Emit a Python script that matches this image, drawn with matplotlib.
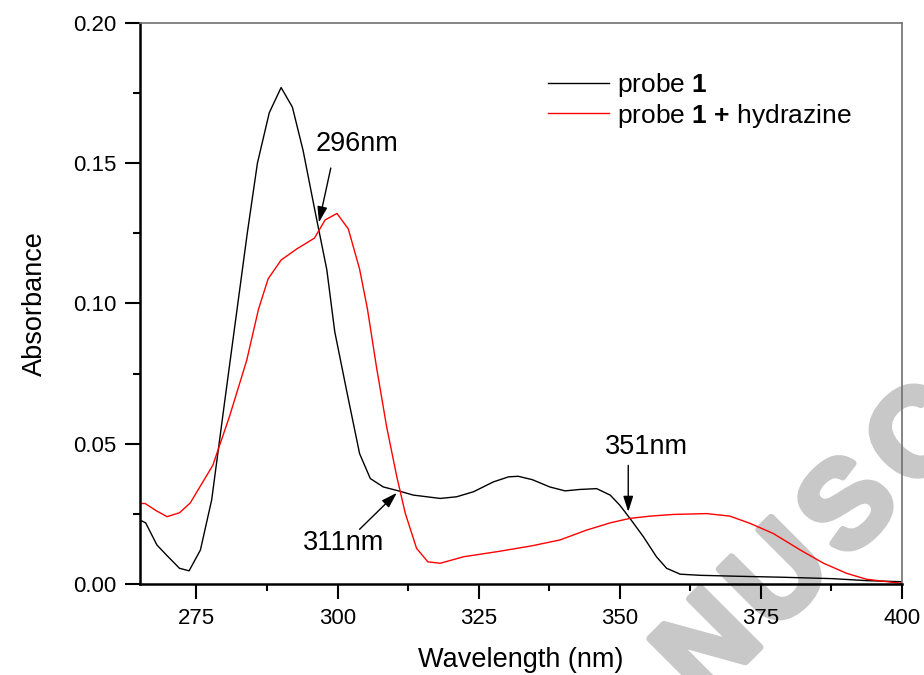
import matplotlib
matplotlib.use("Agg")
import matplotlib.pyplot as plt
import matplotlib.patheffects as pe
from matplotlib.ticker import MultipleLocator

plt.rcParams['font.family'] = ['Liberation Sans', 'DejaVu Sans']
plt.rcParams['mathtext.fontset'] = 'custom'
plt.rcParams['mathtext.rm'] = 'Liberation Sans'
plt.rcParams['mathtext.bf'] = 'Liberation Sans:bold'

# probe 1 (black)
wl_probe = [265, 266, 268, 269.7, 272, 273.7, 275.7, 277.7, 280, 282.4, 284, 285.8,
            287.9, 290, 292, 293.9, 296, 298.1, 299.5, 301.6, 303.9, 305.8, 308.1,
            310.8, 313.4, 318.2, 321.1, 324.1, 327.6, 330.3, 332, 334.5, 337.6,
            340.3, 342.9, 345.9, 348.3, 350, 351.8, 354.2, 356.5, 358.3, 360.7,
            364.2, 370.1, 379, 387.8, 393.7, 400]
abs_probe = [0.0228, 0.0218, 0.0139, 0.0103, 0.0056, 0.0047, 0.0121, 0.030, 0.065,
             0.101, 0.125, 0.150, 0.168, 0.177, 0.170, 0.1545, 0.133, 0.112, 0.090,
             0.069, 0.0465, 0.0376, 0.0346, 0.0332, 0.0317, 0.0305, 0.0311, 0.0329,
             0.0364, 0.0382, 0.0384, 0.0372, 0.0346, 0.0332, 0.0337, 0.0340, 0.0317,
             0.0281, 0.0234, 0.0168, 0.0097, 0.0056, 0.0035, 0.0031, 0.0028, 0.0024,
             0.0019, 0.0012, 0.0008]

# probe 1 + hydrazine (red)
wl_hyd = [265, 265.9, 267.9, 269.8, 272, 273.9, 275.6, 277.9, 279.2, 280.9, 283.9,
          286, 287.7, 290, 292.8, 295.9, 297.8, 299.9, 301.9, 303.9, 305.3, 306.9,
          308.7, 310.5, 312, 314, 316, 318.2, 322.3, 328.5, 334.4, 339.4, 344.1,
          348.3, 351.8, 355.4, 359.5, 365.4, 369.5, 373.1, 377.2, 382, 386.1,
          390.2, 393.7, 400]
abs_hyd = [0.0287, 0.0287, 0.0261, 0.0240, 0.0254, 0.0289, 0.0346, 0.0423, 0.050,
           0.060, 0.0797, 0.098, 0.1088, 0.1155, 0.1195, 0.1233, 0.1298, 0.1321,
           0.1266, 0.1123, 0.098, 0.0773, 0.056, 0.0382, 0.0252, 0.0127, 0.0079,
           0.0074, 0.0097, 0.0116, 0.0136, 0.0157, 0.0192, 0.0218, 0.0234, 0.0242,
           0.0248, 0.0251, 0.0242, 0.0216, 0.018, 0.0121, 0.0074, 0.0038, 0.0017,
           0.0002]

# annotations: label, text position, arrow tail, arrow head
notes = [
    ("296nm", (303.4, 0.1568), (298.8, 0.1483), (296.7, 0.1289)),
    ("311nm", (301.0, 0.0145), (303.9, 0.0195), (310.5, 0.0325)),
    ("351nm", (354.8, 0.0489), (351.5, 0.0423), (351.5, 0.0257)),
]

# watermark letters (cut from "ACCEPTED MANUSCRIPT")
wm_letters = ["N", "U", "S", "C"]

W, H = 924, 675
fig = plt.figure(figsize=(W / 100, H / 100), dpi=100)
ax = fig.add_axes([140 / W, 91 / H, 762 / W, 561 / H])
ax.patch.set_alpha(0)

# watermark behind the plot, letters spaced along a 45 degree line
x0, y0, step = 712, 650, 70
for i, ch in enumerate(wm_letters):
    fig.text((x0 + i * step) / W, 1 - (y0 - i * step) / H, ch, fontsize=88,
             fontweight='bold', color='#c8c8c8', rotation=45,
             rotation_mode='anchor', ha='center', va='center', zorder=-1,
             path_effects=[pe.withStroke(linewidth=5, foreground='#c8c8c8')])

ax.plot(wl_probe, abs_probe, color='black', lw=1.0, label=r'probe $\mathbf{1}$')
ax.plot(wl_hyd, abs_hyd, color='#ff0000', lw=1.0,
        label=r'probe $\mathbf{1}$ $\mathbf{+}$ hydrazine')

for label, txt, tail, head in notes:
    ax.text(txt[0], txt[1], label, fontsize=19.5, ha='center', va='center')
    ax.annotate("", xy=head, xytext=tail,
                arrowprops=dict(arrowstyle='-|>,head_length=0.95,head_width=0.3',
                                color='black', lw=1.0, shrinkA=0, shrinkB=0))

ax.set_xlim(265, 400)
ax.set_ylim(0, 0.20)
ax.xaxis.set_major_locator(MultipleLocator(25))
ax.xaxis.set_minor_locator(MultipleLocator(12.5))
ax.yaxis.set_major_locator(MultipleLocator(0.05))
ax.yaxis.set_minor_locator(MultipleLocator(0.025))
ax.yaxis.set_major_formatter(plt.FuncFormatter(lambda v, p: f"{v:.2f}"))

ax.tick_params(which='both', direction='out', top=False, right=False,
               labelsize=16, width=1.5)
ax.tick_params(which='major', length=11, pad=6)
ax.tick_params(which='minor', length=5)
for s in ['left', 'bottom']:
    ax.spines[s].set_linewidth(1.8)
for s in ['top', 'right']:
    ax.spines[s].set_linewidth(1.2)
    ax.spines[s].set_color('#707070')

ax.set_xlabel("Wavelength (nm)", fontsize=19.5, labelpad=13)
ax.set_ylabel("Absorbance", fontsize=19.5, labelpad=18)

ax.legend(loc='upper left', bbox_to_anchor=(408 / 762, 1 - 48 / 561),
          frameon=False, fontsize=19, handlelength=2.3, handletextpad=0.3,
          labelspacing=0.1, borderaxespad=0, borderpad=0)

fig.savefig("out.png", dpi=100)
